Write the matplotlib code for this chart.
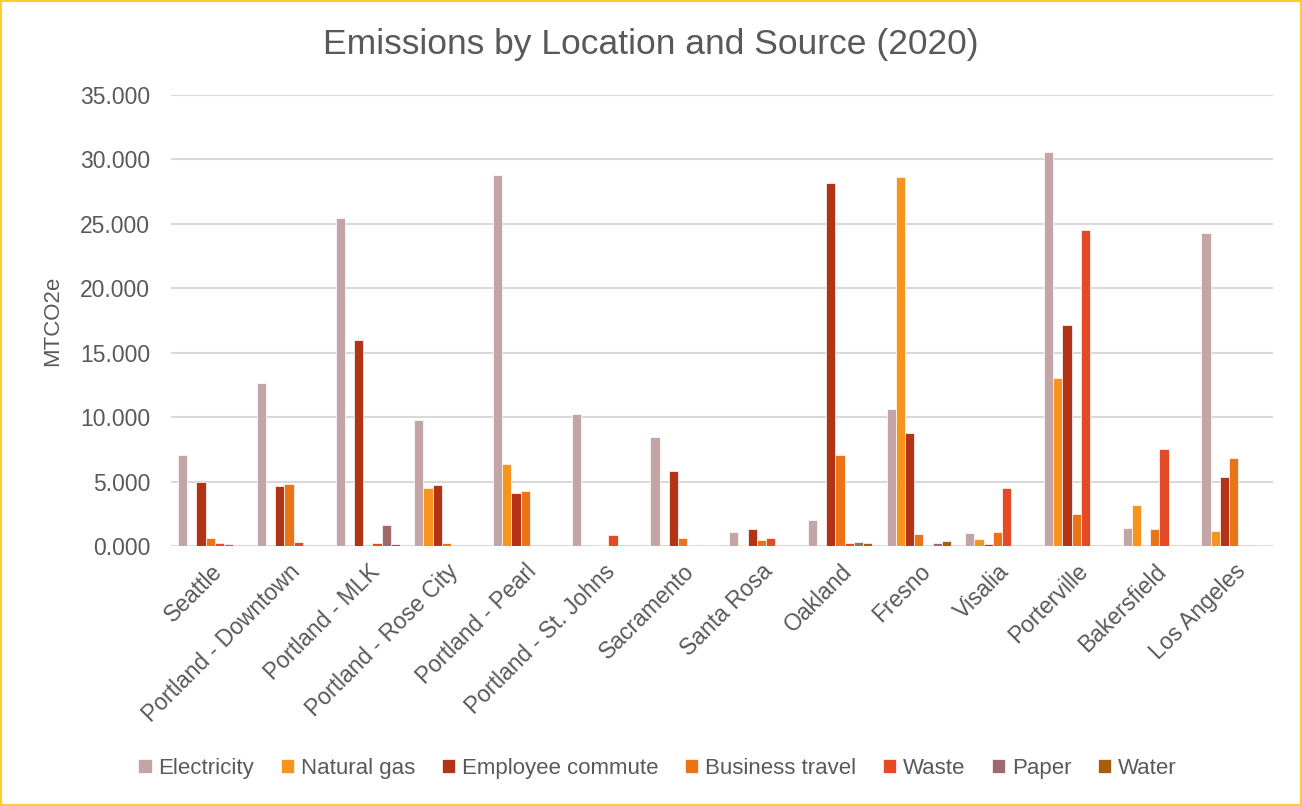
import numpy as np
import matplotlib
matplotlib.use('Agg')
import matplotlib.pyplot as plt
from matplotlib.patches import Rectangle

plt.rcParams['font.family'] = ['Liberation Sans', 'DejaVu Sans']

locations = ['Seattle', 'Portland - Downtown', 'Portland - MLK', 'Portland - Rose City',
             'Portland - Pearl', 'Portland - St. Johns', 'Sacramento', 'Santa Rosa',
             'Oakland', 'Fresno', 'Visalia', 'Porterville', 'Bakersfield', 'Los Angeles']

sources = ['Electricity', 'Natural gas', 'Employee commute', 'Business travel',
           'Waste', 'Paper', 'Water']

electricity = [7.06, 12.62, 25.43, 9.74, 28.82, 10.28, 8.42, 1.05, 2.0, 10.65, 0.97, 30.6, 1.42, 24.25]
natural_gas = [0, 0, 0, 4.47, 6.33, 0, 0, 0.06, 0, 28.6, 0.58, 13.0, 3.2, 1.13]
commute     = [5.0, 4.65, 15.95, 4.73, 4.13, 0, 5.82, 1.35, 28.13, 8.8, 0.19, 17.15, 0, 5.35]
travel      = [0.6, 4.78, 0, 0.21, 4.26, 0.08, 0.65, 0.5, 7.06, 0.94, 1.12, 2.5, 1.32, 6.85]
waste       = [0.21, 0.34, 0.21, 0, 0, 0.89, 0.11, 0.6, 0.21, 0, 4.47, 24.55, 7.5, 0]
paper       = [0.16, 0, 1.63, 0, 0, 0, 0, 0, 0.34, 0.26, 0, 0, 0, 0]
water       = [0, 0, 0.13, 0, 0, 0, 0.04, 0, 0.21, 0.42, 0, 0, 0, 0.05]

series = [electricity, natural_gas, commute, travel, waste, paper, water]
colors = ['#C4A5A5', '#F7941E', '#B23316', '#EC7418', '#E54A26', '#9E6A6B', '#A65E0C']

text_color = '#595959'
grid_color = '#D9D9D9'

fig = plt.figure(figsize=(13.02, 8.06), dpi=100)
ax = fig.add_axes([0.1313, 0.3226, 0.8464, 0.5596])

# seven bars per location, side by side
x = np.arange(len(locations))
step = 0.117
for i, (vals, col) in enumerate(zip(series, colors)):
  ax.bar(x + (i - 3) * step, vals, width=step, color=col, edgecolor='white',
         linewidth=0.5, label=sources[i], zorder=3)

ax.set_xlim(-0.5, len(locations) - 0.5)
ax.set_ylim(0, 35)
ax.set_yticks(np.arange(0, 36, 5))
ax.set_yticklabels(['{:.3f}'.format(v) for v in np.arange(0, 36, 5)])
ax.yaxis.grid(True, color=grid_color, linewidth=1.5, zorder=0)
ax.set_axisbelow(True)
for s in ax.spines.values():
  s.set_visible(False)
ax.tick_params(axis='both', length=0, labelsize=16.5, colors=text_color)
ax.tick_params(axis='y', pad=15)

ax.set_xticks(x)
ax.set_xticklabels(locations, rotation=45, ha='right', rotation_mode='anchor')
for lbl in ax.get_xticklabels():
  lbl.set_y(-0.02)

ax.set_ylabel('MTCO2e', fontsize=16, color=text_color, labelpad=12)

fig.text(0.5, 0.945, 'Emissions by Location and Source (2020)', ha='center', va='center',
         fontsize=25.5, color=text_color)

fig.legend(loc='center', bbox_to_anchor=(0.505, 0.047), ncol=7, frameon=False,
           fontsize=16, labelcolor=text_color, handlelength=0.6, handleheight=0.6,
           handletextpad=0.3, columnspacing=1.2)

fig.patches.append(Rectangle((0.001, 0.001), 0.998, 0.998, transform=fig.transFigure,
                             fill=False, edgecolor='#FFCC29', linewidth=1.5))

fig.savefig('out.png', dpi=100)
